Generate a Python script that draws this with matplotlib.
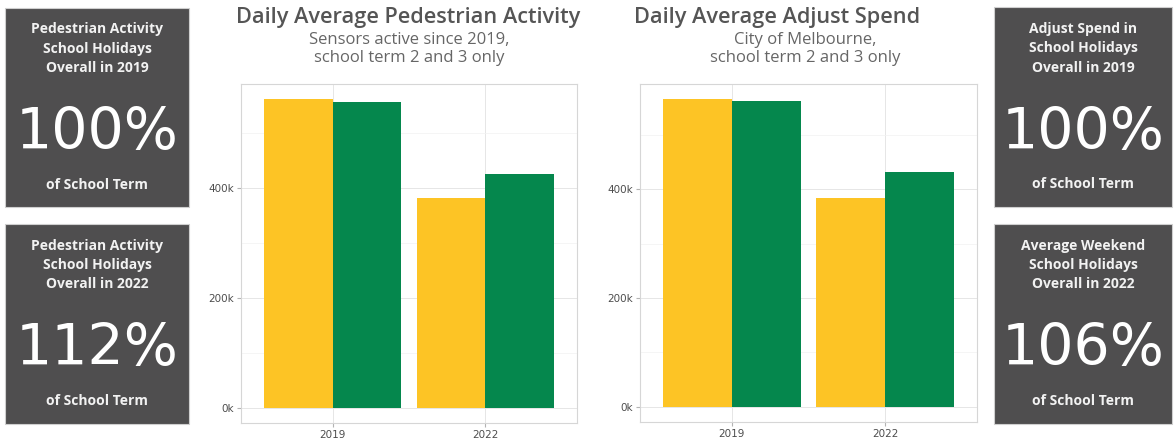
import matplotlib
matplotlib.use("Agg")
import matplotlib.pyplot as plt
from matplotlib.patches import Rectangle
import numpy as np

# Data
years = ["2019", "2022"]
ped_term = [561000, 381000]
ped_holidays = [557000, 425000]
spend_term = [566000, 385000]
spend_holidays = [563000, 432000]

y_ticks = [0, 200000, 400000]
y_tick_labels = ["0k", "200k", "400k"]

box_titles = [
    "Pedestrian Activity\nSchool Holidays\nOverall in 2019",
    "Pedestrian Activity\nSchool Holidays\nOverall in 2022",
    "Adjust Spend in\nSchool Holidays\nOverall in 2019",
    "Average Weekend\nSchool Holidays\nOverall in 2022",
]
box_values = ["100%", "112%", "100%", "106%"]
box_footer = "of School Term"

YELLOW = "#fdc425"
GREEN = "#05874d"
BOX = "#4f4e4f"
TITLE_COL = "#555555"

W, H = 1174, 441
fig = plt.figure(figsize=(W / 100, H / 100), dpi=100)
fig.patch.set_facecolor("white")


def px_axes(left, right, top, bottom):
    return fig.add_axes([left / W, 1 - bottom / H, (right - left) / W, (bottom - top) / H])


def bar_panel(ax, term, holidays):
    x = np.arange(1, len(years) + 1)
    w = 0.45
    ax.bar(x - w / 2, term, width=w, color=YELLOW, zorder=3)
    ax.bar(x + w / 2, holidays, width=w, color=GREEN, zorder=3)
    top = max(max(term), max(holidays))
    pad = top * 0.05
    ax.set_ylim(-pad, top + pad)
    ax.set_xlim(0.4, len(years) + 0.6)
    ax.set_xticks(x)
    ax.set_xticklabels(years)
    ax.set_yticks(y_ticks)
    ax.set_yticklabels(y_tick_labels)
    ax.set_yticks([100000, 300000, 500000], minor=True)
    ax.grid(True, which="major", color="#e6e6e6", lw=0.7, zorder=0)
    ax.grid(True, which="minor", axis="y", color="#f2f2f2", lw=0.5, zorder=0)
    ax.tick_params(which="major", length=3, color="#b3b3b3", labelsize=7.5,
                   labelcolor="#4d4d4d", pad=2)
    ax.tick_params(which="minor", length=0)
    for s in ax.spines.values():
        s.set_color("#d6d6d6")
        s.set_linewidth(0.8)


ax1 = px_axes(241, 577, 84, 423)
bar_panel(ax1, ped_term, ped_holidays)
ax2 = px_axes(640, 977, 84, 422)
bar_panel(ax2, spend_term, spend_holidays)

# Chart titles
fig.text(408 / W, 1 - 18 / H, "Daily Average Pedestrian Activity", ha="center", va="center",
         fontsize=15.7, color=TITLE_COL, family="Open Sans", weight="semibold")
fig.text(409 / W, 1 - 49 / H, "Sensors active since 2019,\nschool term 2 and 3 only",
         ha="center", va="center", fontsize=12, color="#666666", family="Open Sans",
         linespacing=1.2)
fig.text(777 / W, 1 - 18 / H, "Daily Average Adjust Spend", ha="center", va="center",
         fontsize=15.7, color=TITLE_COL, family="Open Sans", weight="semibold")
fig.text(805 / W, 1 - 49 / H, "City of Melbourne,\nschool term 2 and 3 only",
         ha="center", va="center", fontsize=12, color="#666666", family="Open Sans",
         linespacing=1.2)

# Dark stat boxes: (left, right, top, bottom) in pixels
boxes = [(5, 189, 8, 207), (5, 189, 224, 424), (994, 1172, 7, 207), (994, 1172, 224, 424)]
for (l, r, t, b), title, val in zip(boxes, box_titles, box_values):
    fig.patches.append(Rectangle((l / W, 1 - b / H), (r - l) / W, (b - t) / H,
                                 transform=fig.transFigure, facecolor=BOX,
                                 edgecolor="#cfcfcf", lw=0.8))
    cx = (l + r) / 2 / W
    fig.text(cx, 1 - (t + 41) / H, title, ha="center", va="center", fontsize=10,
             color="#f2f2f2", family="Open Sans", weight="bold", linespacing=1.5)
    fig.text(cx, 1 - (t + 126) / H, val, ha="center", va="center", fontsize=41,
             color="white", family="DejaVu Sans", weight="normal")
    fig.text(cx, 1 - (t + 177) / H, box_footer, ha="center", va="center", fontsize=10,
             color="#f2f2f2", family="Open Sans", weight="bold")

fig.savefig("out.png", dpi=100)
